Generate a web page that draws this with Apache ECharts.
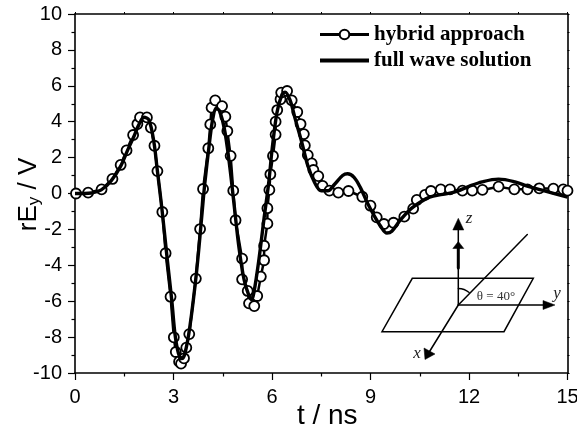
<!DOCTYPE html>
<html>
<head>
<meta charset="utf-8">
<style>html,body{margin:0;padding:0;background:#fff}#c{width:577px;height:429px}</style>
<script src="https://cdn.jsdelivr.net/npm/echarts@6/dist/echarts.min.js"></script>
</head>
<body>
<div id="c"></div>
<script>
const hybridT = [0.03,0.4,0.81,1.14,1.39,1.57,1.77,1.9,1.98,2.19,2.31,2.42,2.51,2.66,2.76,2.91,3.01,3.07,3.17,3.23,3.32,3.39,3.48,3.68,3.81,3.9,4.06,4.12,4.16,4.27,4.48,4.58,4.64,4.74,4.82,4.89,5.09,5.09,5.26,5.3,5.46,5.55,5.66,5.76,5.76,5.86,5.86,5.92,5.95,6.03,6.11,6.11,6.16,6.26,6.28,6.46,6.6,6.77,6.87,6.97,7.0,7.09,7.21,7.26,7.41,7.54,7.75,8.02,8.33,8.75,9.0,9.19,9.41,9.7,10.03,10.3,10.41,10.66,10.84,11.14,11.42,11.8,12.1,12.41,12.9,13.38,13.78,14.14,14.57,14.87,15];
const hybridV = [0,0.05,0.23,0.81,1.59,2.4,3.26,3.87,4.24,4.24,3.67,2.66,1.25,-1.03,-3.33,-5.75,-8.01,-8.83,-9.37,-9.48,-9.18,-8.59,-7.83,-4.74,-1.98,0.25,2.52,3.85,4.78,5.19,4.87,4.28,3.48,2.1,0.16,-1.49,-3.63,-4.78,-5.43,-6.12,-6.27,-5.71,-4.63,-3.72,-2.91,-1.68,-0.82,0.2,1.07,2.09,3.28,4,4.65,5.25,5.62,5.71,5.19,4.54,3.87,3.31,2.68,2.14,1.68,1.31,0.97,0.42,0.16,0.05,0.14,-0.18,-0.68,-1.33,-1.7,-1.63,-1.29,-0.84,-0.36,-0.08,0.14,0.23,0.23,0.16,0.16,0.2,0.38,0.23,0.23,0.29,0.27,0.23,0.16];
const fullT = [0,0.5,0.8,1.1,1.4,1.6,1.8,1.95,2.1,2.25,2.4,2.5,2.65,2.8,2.95,3.05,3.15,3.25,3.35,3.5,3.7,3.85,3.95,4.1,4.2,4.3,4.4,4.55,4.7,4.85,5,5.15,5.3,5.38,5.45,5.6,5.75,5.9,6,6.15,6.3,6.4,6.55,6.7,6.9,7.1,7.3,7.5,7.7,7.9,8.15,8.3,8.5,8.7,8.9,9.1,9.3,9.5,9.65,9.9,10.2,10.5,10.8,11.2,11.6,12,12.4,12.9,13.4,13.8,14.3,15];
const fullV = [0,0.03,0.2,0.7,1.55,2.4,3.2,3.85,4.25,4.1,2.9,1.4,-0.9,-3.5,-6,-7.9,-8.9,-9.2,-8.9,-7.4,-4.4,-1.5,0.5,2.9,4.2,4.75,4.6,3.6,1.7,-0.7,-3.1,-4.8,-5.7,-5.9,-5.5,-3.7,-1.5,0.6,2.4,4.5,5.5,5.65,5.2,4.2,2.9,1.5,0.6,0.15,0.15,0.5,1,1.1,0.9,0.3,-0.5,-1.2,-1.8,-2.2,-2.1,-1.5,-0.9,-0.5,-0.2,-0.05,0.1,0.4,0.65,0.8,0.65,0.4,0.15,-0.2];
const seriesNames = ['hybrid approach','full wave solution'];
const xTitle = 't / ns';
const insetLabels = ['z','y','x','θ = 40°'];

const pair = (a,b) => a.map((v,i)=>[v,b[i]]);
const sans = 'Liberation Sans';
const serif = 'Liberation Serif';
const ink = '#000';
const stroke = w => ({stroke:ink,lineWidth:w,fill:'none',lineCap:'round'});
const seg = (x1,y1,x2,y2,w) => ({type:'line',shape:{x1,y1,x2,y2},style:stroke(w),z:20});
const head = pts => ({type:'polygon',shape:{points:pts},style:{fill:ink,stroke:ink,lineWidth:0.5},z:20});
const label = (text,x,y,size,color) => ({type:'text',x,y,z:21,style:{text,fill:color||'#222',font:'italic '+size+'px "'+serif+'"',textAlign:'center',textVerticalAlign:'middle'}});

const chart = echarts.init(document.getElementById('c'),null,{renderer:'canvas'});
const axisBase = {axisLine:{show:true,onZero:false,lineStyle:{color:ink,width:1.6}}};
chart.setOption({
  animation:false,
  backgroundColor:'#fff',
  grid:{left:75,right:9.5,top:14,bottom:56,containLabel:false,outerBoundsMode:'none'},
  legend:{
    show:true,orient:'vertical',left:318,top:24,padding:0,itemWidth:49,itemHeight:12,itemGap:5,
    data:[{name:seriesNames[0],lineStyle:{width:3}},{name:seriesNames[1],itemStyle:{opacity:0},lineStyle:{width:4}}],
    textStyle:{fontFamily:serif,fontWeight:'bold',fontSize:21,color:ink,padding:[0,0,0,0]}
  },
  xAxis:[
    Object.assign({},axisBase,{type:'value',min:0,max:15,interval:3,
      axisTick:{show:true,length:7,inside:false,lineStyle:{color:ink,width:1.2}},
      minorTick:{show:true,splitNumber:2,length:3.5,lineStyle:{color:ink,width:1.2}},
      splitLine:{show:false},
      axisLabel:{color:ink,fontFamily:sans,fontSize:20,margin:14,showMaxLabel:true,hideOverlap:false},
      name:xTitle,nameLocation:'middle',nameMoveOverlap:false,nameGap:29,nameTextStyle:{color:ink,fontFamily:sans,fontSize:28,padding:[0,0,0,12]}}),
    Object.assign({},axisBase,{type:'value',position:'top',min:0,max:15,interval:1.5,
      axisTick:{show:true,length:2,inside:false,lineStyle:{color:ink,width:1}},
      axisLabel:{show:false},splitLine:{show:false}})
  ],
  yAxis:[
    Object.assign({},axisBase,{type:'value',min:-10,max:10,interval:2,
      axisTick:{show:true,length:7,inside:false,lineStyle:{color:ink,width:1.2}},
      minorTick:{show:true,splitNumber:2,length:3.5,lineStyle:{color:ink,width:1.2}},
      splitLine:{show:false},
      axisLabel:{color:ink,fontFamily:sans,fontSize:20,margin:13},
      name:'{a|rE}{b|y}{a| / V}',nameLocation:'middle',nameMoveOverlap:false,nameGap:32,
      nameTextStyle:{color:ink,padding:[0,2,0,0],rich:{a:{fontFamily:sans,fontSize:26,color:ink},b:{fontFamily:sans,fontSize:17,color:ink,verticalAlign:'bottom',padding:[12,0,0,0]}}}}),
    Object.assign({},axisBase,{type:'value',position:'right',min:-10,max:10,interval:1,
      axisTick:{show:true,length:2,inside:false,lineStyle:{color:ink,width:1}},
      axisLabel:{show:false},splitLine:{show:false}})
  ],
  series:[
    {name:seriesNames[0],type:'line',data:pair(hybridT,hybridV),smooth:false,symbol:'circle',symbolSize:10,showAllSymbol:true,
      lineStyle:{color:ink,width:2.5},itemStyle:{color:'#fff',borderColor:ink,borderWidth:1.8},z:3,clip:false},
    {name:seriesNames[1],type:'line',data:pair(fullT,fullV),smooth:0.35,showSymbol:false,symbol:'none',
      lineStyle:{color:ink,width:3.4},itemStyle:{color:ink},z:4,clip:false}
  ],
  graphic:[
    {type:'polygon',shape:{points:[[412.3,278.3],[533.3,278.3],[504,331.7],[382,331.7]]},style:{stroke:ink,lineWidth:1.5,fill:'none'},z:20},
    seg(458.3,305,458.3,230,1.5),
    seg(458.3,268,458.3,248,3),
    head([[458.3,218.3],[452.8,230],[463.8,230]]),
    head([[458.3,241.5],[452.8,248.5],[463.8,248.5]]),
    seg(458.3,305,527.3,234.5,1.5),
    seg(458.3,305,428,354,1.5),
    head([[425,359.5],[424,348],[435,354]]),
    seg(458.3,305,545,305,1.5),
    head([[555,305],[543,300.5],[543,309.5]]),
    {type:'arc',shape:{cx:458.3,cy:305,r:16.5,startAngle:-Math.PI/2,endAngle:-Math.PI/2+0.72,clockwise:true},style:stroke(1.3),z:20},
    label(insetLabels[0],469,219,17),
    label(insetLabels[1],557,294,17),
    label(insetLabels[2],417,354,17),
    {type:'text',x:496,y:297,z:21,style:{text:insetLabels[3],fill:'#333',font:'13px "'+serif+'"',textAlign:'center',textVerticalAlign:'middle'}}
  ]
});
</script>
</body>
</html>
